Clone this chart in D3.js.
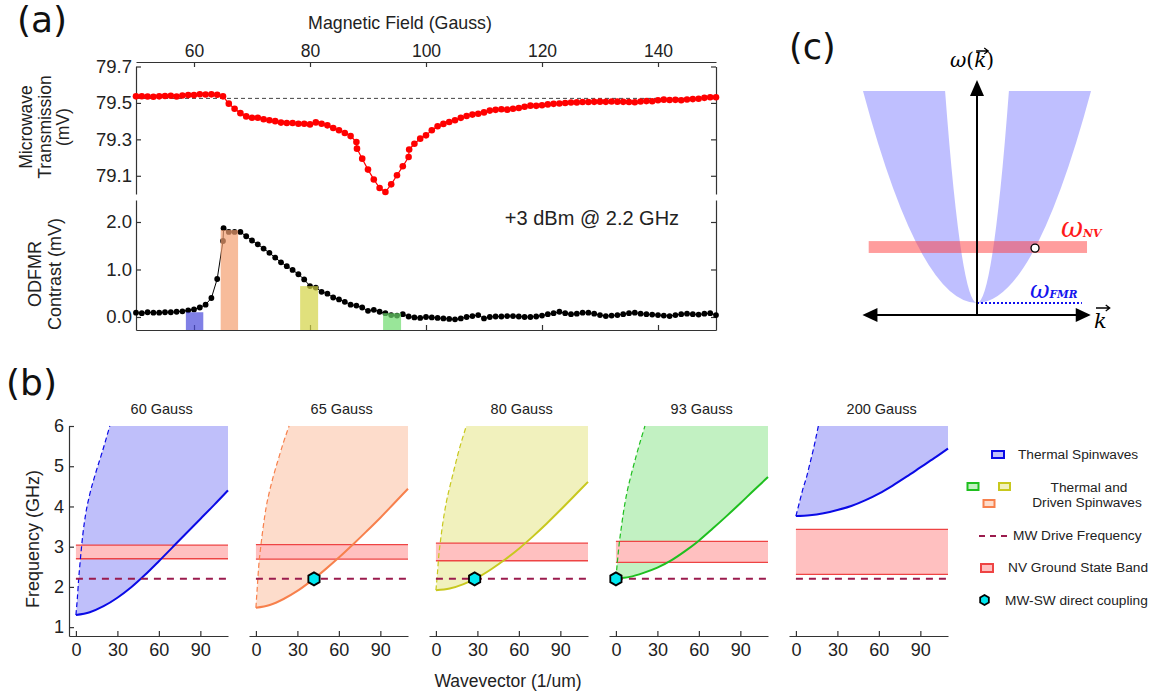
<!DOCTYPE html>
<html>
<head>
<meta charset="utf-8">
<script src="https://cdn.jsdelivr.net/npm/d3@7"></script>
<style>
body { margin: 0; background: #fff; }
svg { font-family: "Liberation Sans", Arial, sans-serif; }
.axis path, .axis line { stroke: #333; stroke-width: 1.2; }
.axis text { fill: #222; }
</style>
</head>
<body>
<svg id="fig" width="1167" height="696"></svg>
<script>
// ---------- panel (a) data ----------
const transField = [50,51,52,53,54,55,56,57,58,59,60,61,62,63,64,65,66,67,68,69,70,71,72,73,74,75,76,77,78,79,80,
  81,82,83,84,85,86,87,88,88.1,89,90,91,92,93,94,95,96,97,97.1,98,99,100,101,102,103,104,105,106,107,108,109,110,
  111,112,113,114,115,116,117,118,119,120,121,122,123,124,125,126,127,128,129,130,131,132,133,134,135,136,137,138,
  139,140,141,142,143,144,145,146,147,148,149,150];
const transValue = [79.536,79.537,79.535,79.534,79.536,79.538,79.539,79.535,79.541,79.543,79.543,79.548,79.546,79.547,79.545,
  79.536,79.496,79.468,79.444,79.426,79.419,79.419,79.410,79.405,79.400,79.392,79.390,79.390,79.386,79.386,79.382,
  79.393,79.386,79.377,79.362,79.350,79.335,79.318,79.285,79.249,79.194,79.134,79.080,79.033,79.011,79.053,79.103,
  79.152,79.203,79.244,79.276,79.304,79.322,79.350,79.372,79.385,79.395,79.405,79.418,79.428,79.436,79.441,79.448,
  79.458,79.462,79.465,79.463,79.468,79.472,79.479,79.485,79.484,79.487,79.492,79.495,79.497,79.500,79.502,79.503,
  79.505,79.505,79.506,79.507,79.506,79.508,79.507,79.506,79.505,79.504,79.508,79.510,79.509,79.515,79.518,79.516,
  79.517,79.515,79.519,79.521,79.523,79.528,79.531,79.531];
const transBaseline = 79.525;

const odmrField = [50,51,52,53,54,55,56,57,58,59,60,61,62,63,64,65,65.1,66,67,68,69,70,71,72,73,74,75,76,77,78,79,80,
  81,82,83,84,85,86,87,88,89,90,91,92,93,94,95,96,97,98,99,100,101,102,103,104,105,106,107,108,109,110,
  111,112,113,114,115,116,117,118,119,120,121,122,123,124,125,126,127,128,129,130,131,132,133,134,135,136,137,138,
  139,140,141,142,143,144,145,146,147,148,149,150];
const odmrValue = [0.09,0.08,0.10,0.09,0.09,0.10,0.10,0.11,0.12,0.14,0.16,0.20,0.26,0.40,0.80,1.60,1.87,1.79,1.79,1.79,
  1.70,1.61,1.53,1.44,1.35,1.25,1.15,1.07,0.99,0.90,0.79,0.65,0.62,0.53,0.49,0.41,0.37,0.32,0.26,0.24,0.20,0.13,0.15,
  0.11,0.08,0.04,0.03,0.06,0.01,-0.01,-0.02,0.00,-0.01,-0.02,-0.03,-0.04,-0.05,-0.03,0.00,0.02,0.04,-0.03,0.00,0.01,
  0.01,0.02,0.02,0.01,0.00,0.00,0.01,0.03,0.06,0.08,0.11,0.08,0.06,0.07,0.09,0.09,0.07,0.04,0.02,0.03,0.04,0.06,0.08,
  0.09,0.07,0.06,0.05,0.04,0.03,0.02,0.04,0.06,0.07,0.06,0.05,0.07,0.08,0.04];

const fieldTicks = [60, 80, 100, 120, 140];
const transTicks = [79.1, 79.3, 79.5, 79.7];
const odmrTicks = [0, 1, 2];
const highlightFields = [[58.6, 61.6], [64.6, 67.6], [78.3, 81.4], [92.6, 95.7]];
const highlightTops = [0.10, 1.83, 0.65, 0.08];
const highlightColors = ["#4a4adb", "#f4a070", "#d3d344", "#6ddb6d"];

// ---------- panel (b) data ----------
const fieldNames = ["60 Gauss", "65 Gauss", "80 Gauss", "93 Gauss", "200 Gauss"];
const kGrid = [0, 10, 20, 30, 40, 50, 60, 70, 80, 90, 100, 110];
const lowerBranch = [
  [1.30, 1.37, 1.52, 1.73, 1.99, 2.30, 2.64, 2.99, 3.34, 3.69, 4.04, 4.40],
  [1.48, 1.55, 1.70, 1.90, 2.15, 2.43, 2.73, 3.05, 3.38, 3.72, 4.08, 4.44],
  [1.92, 1.96, 2.07, 2.23, 2.44, 2.68, 2.95, 3.25, 3.57, 3.91, 4.26, 4.61],
  [2.21, 2.25, 2.35, 2.48, 2.66, 2.89, 3.15, 3.45, 3.76, 4.08, 4.41, 4.73],
  [3.76, 3.78, 3.83, 3.91, 4.01, 4.15, 4.32, 4.52, 4.74, 4.97, 5.20, 5.44]
];
const upperK = [
  [0, 1, 2, 3, 5, 7, 10, 14, 19, 24.5],
  [0, 1, 2, 3.5, 5.3, 7.5, 10, 13, 16, 20, 24],
  [0, 1, 2, 3.5, 5.3, 7.5, 10, 13, 16, 22],
  [0, 1, 2.4, 4, 5.3, 8, 11.3, 15, 21],
  [0, 1.4, 2.9, 5, 7.7, 10, 12.5, 16.2]
];
const upperF = [
  [1.30, 1.70, 2.20, 2.60, 3.30, 3.80, 4.30, 4.80, 5.35, 6.00],
  [1.48, 2.00, 2.50, 3.00, 3.50, 4.00, 4.40, 4.80, 5.15, 5.60, 6.00],
  [1.92, 2.30, 2.75, 3.20, 3.66, 4.10, 4.48, 4.90, 5.31, 6.00],
  [2.21, 2.60, 3.08, 3.50, 3.82, 4.35, 4.82, 5.30, 6.00],
  [3.76, 3.95, 4.15, 4.43, 4.73, 5.05, 5.40, 6.00]
];
const nvBands = [[2.70, 3.04], [2.69, 3.05], [2.65, 3.09], [2.61, 3.13], [2.31, 3.43]];
const couplingK = [null, 42, 28, 0, null];
const mwDrive = 2.2;
const kTicks = [0, 30, 60, 90];
const freqTicks = [1, 2, 3, 4, 5, 6];
const fillColors = ["#bfbffa", "#fddccb", "#f1f1bd", "#c2f1c2", "#bfbffa"];
const lineColors = ["#0a0ae6", "#f7804c", "#c8c81e", "#1fbf1f", "#0a0ae6"];
const legendLabels = ["Thermal Spinwaves", "Thermal and", "Driven Spinwaves", "MW Drive Frequency",
  "NV Ground State Band", "MW-SW direct coupling"];

const svg = d3.select("#fig");
const defs = svg.append("defs");

// ================= panel (a) =================
const L = 136, R = 716;
const xB = d3.scaleLinear().domain([50, 150]).range([L, R]);
const yT = d3.scaleLinear().domain([79.0, 79.7]).range([194, 66.5]);
const yO = d3.scaleLinear().domain([-0.274, 2.463]).range([330, 200]);

function styleAxis(g, size) {
  g.attr("class", "axis").selectAll("text").style("font-size", size + "px").style("font-family", "Liberation Sans, Arial, sans-serif");
  return g;
}

svg.append("g").attr("transform", "translate(0,62)")
  .call(d3.axisTop(xB).tickValues(fieldTicks).tickSize(-5).tickSizeOuter(0).tickPadding(5))
  .call(g => styleAxis(g, 17.5));
svg.append("g").attr("transform", `translate(${L},0)`)
  .call(d3.axisLeft(yT).tickValues(transTicks).tickSize(-5).tickSizeOuter(0).tickPadding(4).tickFormat(d3.format(".1f")))
  .call(g => styleAxis(g, 18.5));
svg.append("g").attr("transform", `translate(${R},0)`)
  .call(d3.axisRight(yT).tickValues(transTicks).tickSize(-5).tickSizeOuter(0).tickFormat(""))
  .call(g => styleAxis(g, 18));
svg.append("g").attr("transform", `translate(${L},0)`)
  .call(d3.axisLeft(yO).tickValues(odmrTicks).tickSize(-5).tickSizeOuter(0).tickPadding(4).tickFormat(d3.format(".1f")))
  .call(g => styleAxis(g, 18.5));
svg.append("g").attr("transform", `translate(${R},0)`)
  .call(d3.axisRight(yO).tickValues(odmrTicks).tickSize(-5).tickSizeOuter(0).tickFormat(""))
  .call(g => styleAxis(g, 18));
svg.append("g").attr("transform", "translate(0,330)")
  .call(d3.axisBottom(xB).tickValues(fieldTicks).tickSize(-5).tickSizeOuter(0).tickFormat(""))
  .call(g => styleAxis(g, 18));

// baseline
svg.append("line").attr("x1", L).attr("x2", R).attr("y1", yT(transBaseline)).attr("y2", yT(transBaseline))
  .attr("stroke", "#444").attr("stroke-width", 1).attr("stroke-dasharray", "4,3");

// transmission
const transPts = transField.map((f, i) => [f, transValue[i]]);
svg.append("path").datum(transPts)
  .attr("d", d3.line().x(d => xB(d[0])).y(d => yT(d[1])))
  .attr("fill", "none").attr("stroke", "#f00").attr("stroke-width", 1.2);
svg.append("g").selectAll("circle").data(transPts).join("circle")
  .attr("cx", d => xB(d[0])).attr("cy", d => yT(d[1])).attr("r", 3.3).attr("fill", "#f00");

// odmr
const odmrPts = odmrField.map((f, i) => [f, odmrValue[i]]);
svg.append("path").datum(odmrPts)
  .attr("d", d3.line().x(d => xB(d[0])).y(d => yO(d[1])))
  .attr("fill", "none").attr("stroke", "#000").attr("stroke-width", 1);
svg.append("g").selectAll("circle").data(odmrPts).join("circle")
  .attr("cx", d => xB(d[0])).attr("cy", d => yO(d[1])).attr("r", 2.9).attr("fill", "#000");

// highlighted field bars
svg.append("g").selectAll("rect").data(highlightFields).join("rect")
  .attr("x", d => xB(d[0])).attr("width", d => xB(d[1]) - xB(d[0]))
  .attr("y", (d, i) => yO(highlightTops[i])).attr("height", (d, i) => yO.range()[0] - yO(highlightTops[i]))
  .attr("fill", (d, i) => highlightColors[i]).attr("opacity", 0.7);

svg.append("text").attr("x", 592).attr("y", 225).attr("text-anchor", "middle")
  .style("font-size", "20px").attr("fill", "#222").text("+3 dBm @ 2.2 GHz");
svg.append("text").attr("x", 400).attr("y", 29).attr("text-anchor", "middle")
  .style("font-size", "17.8px").attr("fill", "#222").text("Magnetic Field (Gauss)");

function vlabel(x, y, txt, size) {
  svg.append("text").attr("transform", `translate(${x},${y}) rotate(-90)`).attr("text-anchor", "middle")
    .style("font-size", size + "px").attr("fill", "#222").text(txt);
}
vlabel(32, 127, "Microwave", 17.5);
vlabel(51, 127, "Transmission", 17.5);
vlabel(69, 127, "(mV)", 17.5);
vlabel(41, 274, "ODFMR", 18);
vlabel(61, 274, "Contrast (mV)", 18);

// panel letters
function panelLetter(x, y, t, size) {
  svg.append("text").attr("x", x).attr("y", y).style("font-family", "DejaVu Sans, sans-serif")
    .style("font-size", size + "px").attr("fill", "#111").text(t);
}
panelLetter(17, 32, "(a)", 36);
panelLetter(6, 395, "(b)", 36);
panelLetter(789, 59, "(c)", 35);

// ================= panel (b) =================
const yF = d3.scaleLinear().domain([0.78, 6]).range([636, 426]);

fieldNames.forEach((name, i) => {
  const x0 = 69 + i * 180;
  const x = d3.scaleLinear().domain([-5, 110]).range([x0, x0 + 159]);
  const g = svg.append("g");
  const lineGen = d3.line().x(d => x(d[0])).y(d => yF(d[1])).curve(d3.curveMonotoneX);
  const upper = upperK[i].map((k, j) => [k, upperF[i][j]]);
  const lower = kGrid.map((k, j) => [k, lowerBranch[i][j]]);

  defs.append("clipPath").attr("id", "clip" + i).append("path")
    .attr("d", lineGen(upper) + `L${x(116)},${yF(6.3)}L${x(116)},${yF(0.5)}L${x(0)},${yF(0.5)}Z`);

  g.append("path").datum(lower)
    .attr("d", d3.area().x(d => x(d[0])).y0(d => yF(d[1])).y1(yF(6)).curve(d3.curveMonotoneX))
    .attr("fill", fillColors[i]).attr("clip-path", `url(#clip${i})`);

  // NV band
  const band = nvBands[i];
  g.append("rect").attr("x", x(0)).attr("width", x(110) - x(0))
    .attr("y", yF(band[1])).attr("height", yF(band[0]) - yF(band[1])).attr("fill", "#ffc0c0");
  band.forEach(v => g.append("line").attr("x1", x(0)).attr("x2", x(110)).attr("y1", yF(v)).attr("y2", yF(v))
    .attr("stroke", "#ee4444").attr("stroke-width", 1.3));

  g.append("path").datum(upper).attr("d", lineGen).attr("fill", "none")
    .attr("stroke", lineColors[i]).attr("stroke-width", 1.2).attr("stroke-dasharray", "5,3");
  g.append("path").datum(lower).attr("d", lineGen).attr("fill", "none")
    .attr("stroke", lineColors[i]).attr("stroke-width", 2);

  g.append("line").attr("x1", x(0)).attr("x2", x(110)).attr("y1", yF(mwDrive)).attr("y2", yF(mwDrive))
    .attr("stroke", "#9b1b4d").attr("stroke-width", 2).attr("stroke-dasharray", "7,6");

  if (couplingK[i] !== null) {
    g.append("path").attr("d", hexagon(x(couplingK[i]), yF(mwDrive), 6.5))
      .attr("fill", "#00e8f0").attr("stroke", "#000").attr("stroke-width", 1.8);
  }

  g.append("g").attr("transform", `translate(0,${yF.range()[0]})`)
    .call(d3.axisBottom(x).tickValues(kTicks).tickSize(-5).tickSizeOuter(0).tickPadding(7).tickFormat(d3.format("d")))
    .call(a => styleAxis(a, 18));
  if (i === 0) {
    g.append("g").attr("transform", `translate(${x0},0)`)
      .call(d3.axisLeft(yF).tickValues(freqTicks).tickSize(-5).tickSizeOuter(0).tickPadding(5).tickFormat(d3.format("d")))
      .call(a => styleAxis(a, 18));
  }
  g.append("text").attr("x", x(62)).attr("y", 414).attr("text-anchor", "middle")
    .style("font-size", "14.5px").attr("fill", "#222").text(name);
});

function hexagon(cx, cy, r) {
  const pts = d3.range(6).map(j => {
    const a = Math.PI / 6 + j * Math.PI / 3;
    return [cx + r * Math.cos(a), cy + r * Math.sin(a)];
  });
  return "M" + pts.join("L") + "Z";
}

vlabel(39, 539, "Frequency (GHz)", 18);
svg.append("text").attr("x", 508).attr("y", 687).attr("text-anchor", "middle")
  .style("font-size", "17.5px").attr("fill", "#222").text("Wavevector (1/um)");

// legend
const lg = svg.append("g").style("font-size", "13.7px").attr("fill", "#222");
function lrect(x, y, w, h, fill, stroke) {
  lg.append("rect").attr("x", x).attr("y", y).attr("width", w).attr("height", h)
    .attr("fill", fill).attr("stroke", stroke).attr("stroke-width", 2);
}
lrect(992, 451, 12, 7, fillColors[0], lineColors[0]);
lg.append("text").attr("x", 1018).attr("y", 459).text(legendLabels[0]);
lrect(967.5, 483, 11, 7, fillColors[3], lineColors[3]);
lrect(999, 483, 11, 7, fillColors[2], lineColors[2]);
lrect(983.5, 500, 11, 7, fillColors[1], lineColors[1]);
lg.append("text").attr("x", 1089).attr("y", 492).attr("text-anchor", "middle").text(legendLabels[1]);
lg.append("text").attr("x", 1087).attr("y", 507).attr("text-anchor", "middle").text(legendLabels[2]);
lg.append("line").attr("x1", 979).attr("x2", 1007).attr("y1", 536).attr("y2", 536)
  .attr("stroke", "#9b1b4d").attr("stroke-width", 2).attr("stroke-dasharray", "6,5");
lg.append("text").attr("x", 1013).attr("y", 540).text(legendLabels[3]);
lrect(981, 564, 12, 8, "#ffc0c0", "#ee4444");
lg.append("text").attr("x", 1008).attr("y", 572).text(legendLabels[4]);
lg.append("path").attr("d", hexagon(984.5, 600, 5)).attr("fill", "#00e8f0").attr("stroke", "#000").attr("stroke-width", 1.8);
lg.append("text").attr("x", 1005).attr("y", 605).text(legendLabels[5]);

// ================= panel (c) =================
const kC = d3.scaleLinear().domain([-1, 1]).range([863, 1091]);
const wC = d3.scaleLinear().domain([0, 1]).range([303, 91]);
const innerTop = 0.28;          // half-width of the inner edge at the top
const nvBand = [0.236, 0.292];  // schematic NV band, in omega units
const nvBandK = [-0.95, 0.965];
const crossing = [0.509, 0.259];

const gc = svg.append("g");
[-1, 1].forEach(s => {
  gc.append("path")
    .attr("d", `M${kC(s)},${wC(1)}Q${kC(s * 0.5)},${wC(0)} ${kC(0)},${wC(0)}` +
      `Q${kC(s * innerTop / 2)},${wC(0)} ${kC(s * innerTop)},${wC(1)}Z`)
    .attr("fill", "rgb(128,128,255)").attr("opacity", 0.5);
});
gc.append("rect").attr("x", kC(nvBandK[0])).attr("width", kC(nvBandK[1]) - kC(nvBandK[0]))
  .attr("y", wC(nvBand[1])).attr("height", wC(nvBand[0]) - wC(nvBand[1]))
  .attr("fill", "rgb(255,60,60)").attr("opacity", 0.5);
gc.append("line").attr("x1", kC(0)).attr("x2", kC(0.92)).attr("y1", wC(0)).attr("y2", wC(0))
  .attr("stroke", "#1010ee").attr("stroke-width", 2.2).attr("stroke-dasharray", "2,2");

// axes with arrows
const axY = wC(-0.057);
gc.append("line").attr("x1", kC(-0.98)).attr("x2", kC(0.98)).attr("y1", axY).attr("y2", axY)
  .attr("stroke", "#000").attr("stroke-width", 2);
gc.append("line").attr("x1", kC(0)).attr("x2", kC(0)).attr("y1", axY).attr("y2", wC(1.0))
  .attr("stroke", "#000").attr("stroke-width", 2);
gc.append("path").attr("d", `M${kC(-1.005)},${axY}l15,-7v14Z`).attr("fill", "#000");
gc.append("path").attr("d", `M${kC(0.998)},${axY}l-15,-7v14Z`).attr("fill", "#000");
gc.append("path").attr("d", `M${kC(0)},${wC(1.052)}l-7,16h14Z`).attr("fill", "#000");

gc.append("circle").attr("cx", kC(crossing[0])).attr("cy", wC(crossing[1])).attr("r", 4)
  .attr("fill", "#fff").attr("stroke", "#000").attr("stroke-width", 1.3);

const serif = "DejaVu Serif, serif";
function arrowOver(x0, x1, y) {
  gc.append("path").attr("d", `M${x0},${y}H${x1}M${x1 - 4},${y - 3}L${x1},${y}L${x1 - 4},${y + 3}`)
    .attr("stroke", "#000").attr("stroke-width", 1.3).attr("fill", "none");
}
// omega(k) label, arrow placed over the measured k glyph
const wl = gc.append("text").attr("x", 950).attr("y", 67).style("font-family", serif)
  .style("font-size", "20px").attr("fill", "#000");
const t1 = wl.append("tspan").style("font-style", "italic").text("ω");
const t2 = wl.append("tspan").text("(");
const t3 = wl.append("tspan").style("font-style", "italic").text("k");
wl.append("tspan").text(")");
const kStart = 950 + t1.node().getComputedTextLength() + t2.node().getComputedTextLength();
const kLen = t3.node().getComputedTextLength();
arrowOver(kStart + 2, kStart + kLen + 2, 51);

const kt = gc.append("text").attr("x", 1094).attr("y", 328).style("font-family", serif).style("font-style", "italic")
  .style("font-size", "21px").text("k");
const kw = kt.node().getComputedTextLength();
arrowOver(1096, 1094 + kw + 3, 308);

const nv = gc.append("text").attr("x", 1061).attr("y", 237).style("font-family", serif)
  .style("font-style", "italic").attr("fill", "#ff1a1a");
nv.append("tspan").style("font-size", "27px").text("ω");
nv.append("tspan").style("font-size", "11px").style("font-weight", "bold").text("NV");

const fm = gc.append("text").attr("x", 1030).attr("y", 298).style("font-family", serif)
  .style("font-style", "italic").attr("fill", "#1414ee");
fm.append("tspan").style("font-size", "24px").text("ω");
fm.append("tspan").style("font-size", "10.5px").style("font-weight", "bold").text("FMR");
</script>
</body>
</html>
